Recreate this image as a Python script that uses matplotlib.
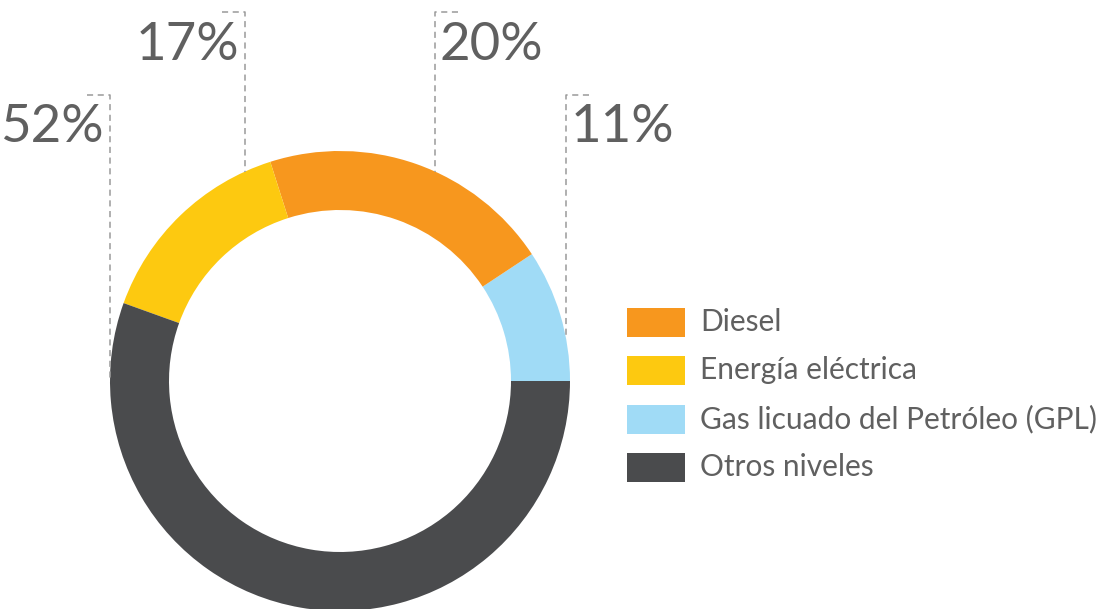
import numpy as np
import matplotlib
matplotlib.use('Agg')
import matplotlib.pyplot as plt
from matplotlib.patches import Rectangle

# shares as drawn (counter-clockwise from 3 o'clock), and the printed labels
categories = ['Gas licuado del Petróleo (GPL)', 'Diesel', 'Energía eléctrica', 'Otros niveles']
shares = [9.3, 20.6, 14.6, 55.5]
pct_labels = ['11%', '20%', '17%', '52%']
colors = ['#A0DBF6', '#F7971E', '#FDC910', '#4A4B4D']

legend_order = ['Diesel', 'Energía eléctrica', 'Gas licuado del Petróleo (GPL)', 'Otros niveles']

plt.rcParams['font.family'] = ['Lato', 'DejaVu Sans']
txt_color = '#606060'

W, H = 1102, 609
fig = plt.figure(figsize=(W / 100, H / 100), dpi=100)
ax = fig.add_axes([0, 0, 1, 1])

cx, cy, R, ring = 340, H - 381, 230, 59
ax.pie(shares, colors=colors, startangle=0, counterclock=True,
       center=(cx, cy), radius=R,
       wedgeprops=dict(width=ring, linewidth=0))

ax.set_xlim(0, W)
ax.set_ylim(0, H)
ax.set_aspect('equal')
ax.axis('off')

# leader lines: (x offset from centre, top y, text side)
leaders = {
    '11%': (226, H - 95, 'left'),
    '20%': (95, H - 12, 'left'),
    '17%': (-95, H - 12, 'right'),
    '52%': (-230, H - 95, 'right'),
}
for lab in pct_labels:
    dx, ytop, side = leaders[lab]
    x = cx + dx
    ybot = cy + np.sqrt(max(R ** 2 - dx ** 2, 0))
    tick = 23 if side == 'left' else -23
    ax.plot([x + tick, x, x], [ytop, ytop, ybot], color='#9a9a9a', lw=1.1,
            linestyle=(0, (4, 3)))
    tx = x + 5 if side == 'left' else x - 6
    ax.text(tx, ytop - 33, lab, ha=side, va='center', fontsize=38,
            color=txt_color)

# legend
for i, name in enumerate(legend_order):
    c = colors[categories.index(name)]
    yc = H - (322 + i * 48.5)
    ax.add_patch(Rectangle((627, yc - 14.5), 58, 29, color=c, lw=0))
    ax.text(700, yc, name, ha='left', va='center', fontsize=21.5,
            color=txt_color)

fig.savefig('out.png', dpi=100)
